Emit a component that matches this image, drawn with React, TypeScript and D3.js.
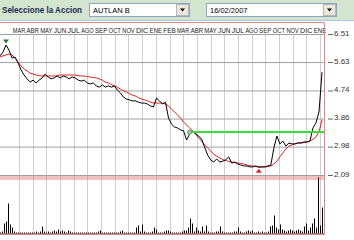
import React from "react";
import * as d3 from "d3";

const months = ["MAR","ABR","MAY","JUN","JUL","AGO","SEP","OCT","NOV","DIC","ENE","FEB","MAR","ABR","MAY","JUN","JUL","AGO","SEP","OCT","NOV","DIC","ENE"];
const priceTicks = [6.51, 5.63, 4.74, 3.86, 2.98, 2.09];
const priceTickLabels = ["6.51", "5.63", "4.74", "3.86", "2.98", "2.09"];

const closePrices = [
  5.84, 5.96, 6.18, 6.02, 5.77, 5.80, 5.62, 5.40, 5.24, 5.12,
  5.02, 5.08, 4.99, 5.08, 5.15, 5.27, 5.18, 5.12, 5.15, 5.21,
  5.15, 5.21, 5.18, 5.12, 5.18, 5.15, 5.08, 5.05, 5.08, 4.99,
  4.96, 4.99, 4.90, 4.86, 4.93, 4.86, 4.90, 4.86, 4.90, 4.77,
  4.68, 4.55, 4.49, 4.46, 4.43, 4.43, 4.39, 4.36, 4.36, 4.33,
  4.27, 4.24, 4.52, 4.43, 4.33, 4.39, 3.89, 3.70, 3.61, 3.58,
  3.52, 3.49, 3.20, 3.39, 3.49, 3.39, 3.33, 3.23, 2.98, 2.73,
  2.58, 2.51, 2.61, 2.51, 2.54, 2.58, 2.67, 2.48, 2.51, 2.45,
  2.42, 2.39, 2.39, 2.36, 2.36, 2.39, 2.35, 2.36, 2.36, 2.39,
  2.42, 2.95, 3.33, 3.08, 3.17, 3.01, 3.11, 3.08, 3.08, 3.11,
  3.11, 3.14, 3.14, 3.17, 3.58, 3.74, 4.08, 5.33
];

const movingAverage = [
  5.80, 5.84, 5.87, 5.90, 5.87, 5.77, 5.65, 5.52, 5.43, 5.37,
  5.30, 5.27, 5.24, 5.22, 5.21, 5.21, 5.21, 5.21, 5.21, 5.22,
  5.24, 5.24, 5.24, 5.24, 5.24, 5.24, 5.22, 5.21, 5.21, 5.19,
  5.18, 5.16, 5.15, 5.12, 5.08, 5.02, 4.99, 4.94, 4.90, 4.86,
  4.80, 4.75, 4.71, 4.66, 4.61, 4.58, 4.53, 4.49, 4.46, 4.43,
  4.39, 4.36, 4.36, 4.36, 4.36, 4.33, 4.27, 4.17, 4.08, 3.99,
  3.89, 3.77, 3.67, 3.58, 3.49, 3.39, 3.27, 3.17, 3.05, 2.95,
  2.86, 2.76, 2.70, 2.64, 2.59, 2.56, 2.53, 2.51, 2.50, 2.48,
  2.47, 2.45, 2.42, 2.40, 2.39, 2.37, 2.36, 2.36, 2.36, 2.37,
  2.39, 2.45, 2.54, 2.67, 2.80, 2.92, 3.01, 3.05, 3.08, 3.11,
  3.11, 3.12, 3.14, 3.17, 3.22, 3.30, 3.45, 3.83
];

const volumes = [
  1, 2, 10, 12, 30, 9, 6, 2, 1, 1,
  1, 1, 1, 1, 1, 1, 1, 1, 2, 1,
  2, 7, 2, 1, 2, 1, 2, 3, 2, 4,
  2, 3, 2, 1, 3, 2, 1, 1, 1, 1,
  1, 1, 1, 1, 1, 1, 1, 1, 1, 2,
  3, 1, 1, 1, 1, 1, 1, 1, 1, 1,
  2, 3, 1, 1, 1, 1, 1, 1, 6, 8,
  2, 9, 2, 1, 1, 1, 2, 6, 4, 1,
  1, 1, 2, 3, 3, 2, 1, 1, 1, 1,
  1, 2, 3, 3, 6, 15, 10, 2, 6, 3,
  2, 7, 2, 8, 2, 1, 1, 1, 2, 2,
  7, 2, 1, 1, 1, 1, 1, 2, 2, 6,
  2, 1, 1, 2, 3, 2, 3, 1, 1, 2,
  1, 2, 1, 1, 2, 7, 8, 18, 6, 4,
  9, 4, 3, 2, 3, 4, 3, 2, 3, 4,
  3, 2, 7, 10, 3, 6, 10, 15, 6, 56,
  8, 26
];

const resistanceLevel = 3.45;
const resistanceStartIndex = 63;

const stockLabel = "Seleccione la Accion";
const stockName = "AUTLAN B";
const dateLabel = "16/02/2007";

export default function App() {
  const W = 354, H = 240;
  const plotLeft = 0, plotRight = 322, borderX = 324.5;
  const priceTop = 34.5, priceBottom = 175.5;
  const volTop = 177.5, volBottom = 233.5;

  const x = d3.scaleLinear().domain([0, closePrices.length - 1]).range([plotLeft, plotRight]);
  const xv = d3.scaleLinear().domain([0, volumes.length - 1]).range([plotLeft, plotRight]);
  const xm = d3.scaleLinear().domain([0, months.length - 1]).range([19, 320]);
  const y = d3.scaleLinear().domain([2.09, 6.51]).range([priceBottom, priceTop]);
  const yv = d3.scaleLinear().domain([0, 56]).range([volBottom, volTop]);

  const line = d3.line<number>().x((_, i) => x(i)).y((d) => y(d));
  const maxIdx = d3.maxIndex(closePrices);
  const minIdx = d3.minIndex(closePrices);

  const font = "'Liberation Sans', Arial, sans-serif";

  return (
    <svg width={W} height={H} style={{ position: "absolute", left: 0, top: 0 }} fontFamily={font}>
      <rect x={0} y={0} width={W} height={H} fill="#ffffff" />
      {/* header */}
      <rect x={0} y={0} width={W} height={20} fill="#d4e5cf" />
      <line x1={0} x2={W} y1={20.5} y2={20.5} stroke="#a9c6e4" />
      <text x={2} y={13} fontSize={8.5} fontWeight="bold" fill="#1c2a52" textLength={80} lengthAdjust="spacingAndGlyphs">{stockLabel}</text>
      <rect x={89.5} y={3.5} width={100} height={13} fill="#ffffff" stroke="#8ea6bf" />
      <text x={93} y={12.5} fontSize={7.5} fill="#000">{stockName}</text>
      <rect x={176.5} y={4.5} width={12} height={11} fill="#ece9d8" stroke="#b0b8c4" />
      <path d="M180,8.5 L185,8.5 L182.5,11.5 Z" fill="#000" />
      <rect x={206.5} y={3.5} width={130} height={13} fill="#ffffff" stroke="#8ea6bf" />
      <text x={210} y={12.5} fontSize={7.5} fill="#000">{dateLabel}</text>
      <rect x={323.5} y={4.5} width={12} height={11} fill="#ece9d8" stroke="#b0b8c4" />
      <path d="M327,8.5 L332,8.5 L329.5,11.5 Z" fill="#000" />

      {/* vertical month gridlines */}
      {months.map((m, i) => (
        <line key={"v" + i} x1={Math.round(xm(i)) + 0.5} x2={Math.round(xm(i)) + 0.5} y1={priceTop} y2={volBottom} stroke="#cfcfcf" />
      ))}
      {months.map((m, i) => (
        <text key={"m" + i} x={xm(i) - 6.2} y={33} fontSize={6.8} fill="#222" textLength={12.4} lengthAdjust="spacingAndGlyphs">{m}</text>
      ))}
      {/* horizontal price gridlines + labels */}
      {priceTicks.map((t, i) => (
        <g key={"h" + i}>
          <line x1={0} x2={borderX} y1={y(t)} y2={y(t)} stroke="#a0a0a0" />
          <line x1={328} x2={333} y1={y(t)} y2={y(t)} stroke="#666" />
          <text x={334} y={y(t) + 1} fontSize={8} fill="#333">{priceTickLabels[i]}</text>
        </g>
      ))}

      {/* borders */}
      <line x1={0} x2={borderX} y1={22.5} y2={22.5} stroke="#e58585" />
      <line x1={0} x2={borderX} y1={177} y2={177} stroke="#e58585" />
      <line x1={0} x2={borderX} y1={179} y2={179} stroke="#e58585" />

      {/* volume */}
      {volumes.map((v, i) => (
        <line key={"b" + i} x1={Math.round(xv(i)) + 0.5} x2={Math.round(xv(i)) + 0.5} y1={volBottom} y2={yv(v)} stroke="#000" />
      ))}
      <line x1={0} x2={borderX} y1={volBottom + 0.5} y2={volBottom + 0.5} stroke="#8b1a1a" />

      {/* price lines */}
      <path d={line(movingAverage) || ""} fill="none" stroke="#e02020" strokeWidth={1} />
      <path d={line(closePrices) || ""} fill="none" stroke="#000" strokeWidth={1} />
      <line x1={x(resistanceStartIndex)} x2={borderX} y1={y(resistanceLevel)} y2={y(resistanceLevel)} stroke="#33e033" strokeWidth={2} />
      <circle cx={x(resistanceStartIndex)} cy={y(resistanceLevel)} r={2.2} fill="#9cc79c" stroke="#5f8f5f" strokeWidth={0.8} />

      {/* max / min markers */}
      <path d={`M${x(maxIdx) - 3},${y(closePrices[maxIdx]) - 5.5} L${x(maxIdx) + 3},${y(closePrices[maxIdx]) - 5.5} L${x(maxIdx)},${y(closePrices[maxIdx]) - 1.5} Z`} fill="#1f7a3a" />
      <path d={`M${x(minIdx) - 3},${y(closePrices[minIdx]) + 5.5} L${x(minIdx) + 3},${y(closePrices[minIdx]) + 5.5} L${x(minIdx)},${y(closePrices[minIdx]) + 1.5} Z`} fill="#e02020" />

      <line x1={borderX} x2={borderX} y1={22.5} y2={volBottom + 1} stroke="#e58585" />
    </svg>
  );
}
